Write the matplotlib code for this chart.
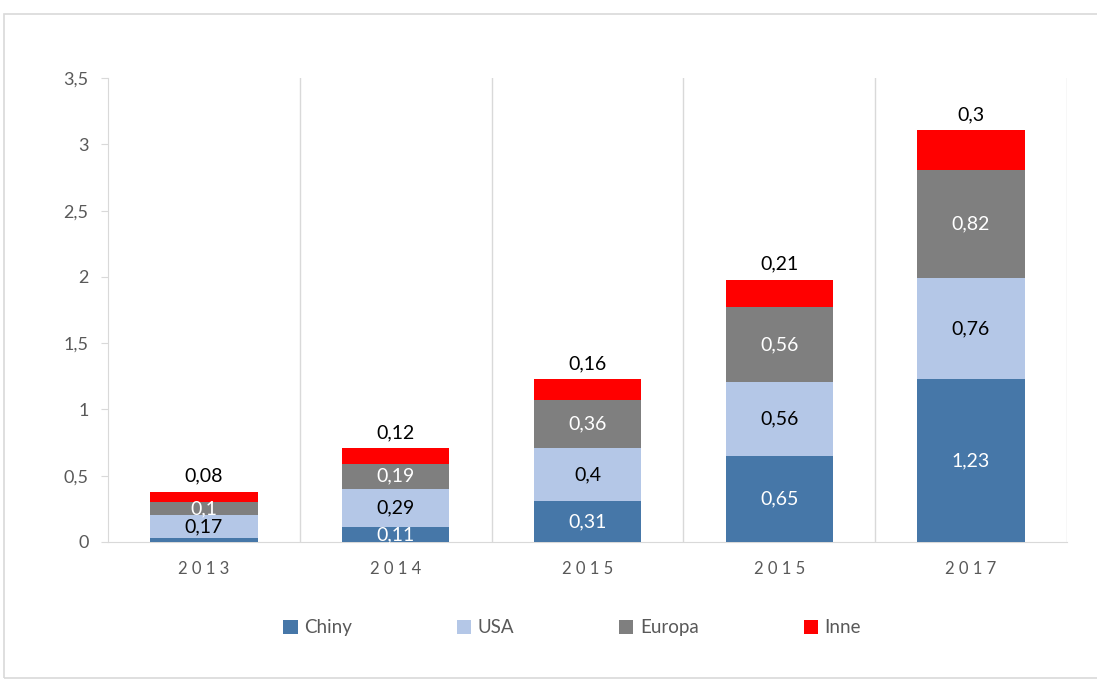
import matplotlib.pyplot as plt
import numpy as np

plt.rcParams['font.family'] = ['Lato', 'DejaVu Sans']

years = ['2013', '2014', '2015', '2015', '2017']
chiny = [0.03, 0.11, 0.31, 0.65, 1.23]
usa = [0.17, 0.29, 0.40, 0.56, 0.76]
europa = [0.10, 0.19, 0.36, 0.56, 0.82]
inne = [0.08, 0.12, 0.16, 0.21, 0.30]

series = [('Chiny', chiny, '#4677A8', 'white', True),
          ('USA', usa, '#B4C7E7', 'black', True),
          ('Europa', europa, '#7F7F7F', 'white', True),
          ('Inne', inne, '#FF0000', 'black', False)]


def fmt(v):
    return ('%g' % v).replace('.', ',')


fig = plt.figure(figsize=(10.97, 6.80), dpi=100)
ax = fig.add_axes([0.0985, 0.203, 0.874, 0.682])

x = np.arange(len(years))
bottom = np.zeros(len(years))
for name, vals, color, tcol, inside in series:
    vals = np.array(vals)
    ax.bar(x, vals, 0.56, bottom=bottom, color=color, label=name, zorder=3)
    for xi, b, v in zip(x, bottom, vals):
        if name == 'Chiny' and v < 0.05:
            continue
        if inside:
            ax.text(xi, b + v / 2, fmt(v), ha='center', va='center',
                    color=tcol, fontsize=14, zorder=4)
        else:
            ax.annotate(fmt(v), (xi, b + v), xytext=(0, 5),
                        textcoords='offset points', ha='center', va='bottom',
                        color=tcol, fontsize=14)
    bottom = bottom + vals

ax.set_xlim(-0.5, len(years) - 0.5)
ax.set_ylim(0, 3.5)
ax.set_yticks(np.arange(0, 3.51, 0.5))
ax.set_yticklabels([fmt(t) for t in np.arange(0, 3.51, 0.5)])
ax.set_xticks(x)
ax.set_xticklabels([' '.join(y) for y in years])

# category separators
for b in np.arange(0.5, len(years), 1.0):
    ax.axvline(b, color='#D9D9D9', lw=1, zorder=1)

for s in ['top', 'right']:
    ax.spines[s].set_visible(False)
ax.spines['left'].set_color('#D9D9D9')
ax.spines['bottom'].set_color('#D9D9D9')
ax.tick_params(axis='y', colors='#D9D9D9', labelcolor='#595959',
               labelsize=13, length=5, pad=9)
ax.tick_params(axis='x', length=0, labelcolor='#595959', labelsize=12, pad=14)

ax.legend(loc='center', bbox_to_anchor=(0.484, -0.185), ncol=4, frameon=False,
          fontsize=13.5, handlelength=0.75, handleheight=0.75,
          handletextpad=0.35, columnspacing=5.6, labelcolor='#595959')

# chart frame
fig.patches.append(plt.Rectangle((4 / 1097, 2 / 680), 1.2, 664 / 680,
                                 transform=fig.transFigure, fill=False,
                                 edgecolor='#D9D9D9', lw=1.2))

fig.savefig('out.png', dpi=100)
